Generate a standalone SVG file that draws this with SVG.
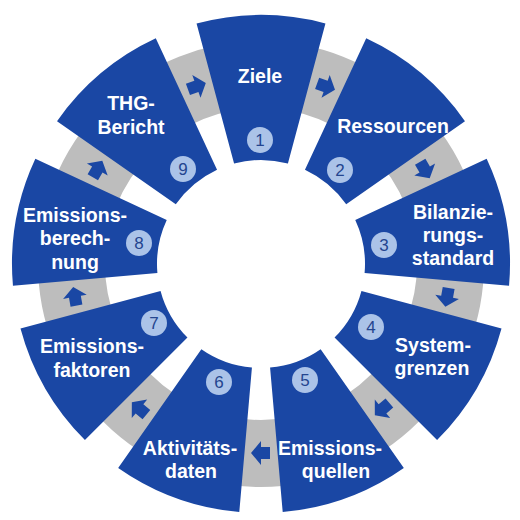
<svg xmlns="http://www.w3.org/2000/svg" xmlns:xlink="http://www.w3.org/1999/xlink" width="520" height="520" viewBox="0 0 520 520">
<style>
.seg{fill:#1a47a4}
.lbl{font-family:"Liberation Sans",Arial,sans-serif;font-weight:bold;font-size:19.5px;fill:#ffffff;text-anchor:middle}
.numc{fill:#abc3e8}
.numt{font-family:"Liberation Sans",Arial,sans-serif;font-size:17px;fill:#24458f;text-anchor:middle}
.arr{fill:#1a47a4}
</style>
<defs>
<path id="arrow" d="M-9,-6 L0,-6 L0,-12 L10,0 L0,12 L0,6 L-9,6 Z"/>
</defs>
<rect width="520" height="520" fill="#ffffff"/>
<g id="connectors">
<circle cx="261" cy="264" r="189.5" fill="none" stroke="#bdbdbd" stroke-width="67"/>
<use xlink:href="#arrow" class="arr" transform="translate(325.6,86.4) rotate(20)"/>
<use xlink:href="#arrow" class="arr" transform="translate(424.7,169.5) rotate(60)"/>
<use xlink:href="#arrow" class="arr" transform="translate(447.1,296.8) rotate(100)"/>
<use xlink:href="#arrow" class="arr" transform="translate(382.5,408.8) rotate(140)"/>
<use xlink:href="#arrow" class="arr" transform="translate(261,453) rotate(180)"/>
<use xlink:href="#arrow" class="arr" transform="translate(139.5,408.8) rotate(220)"/>
<use xlink:href="#arrow" class="arr" transform="translate(74.9,296.8) rotate(260)"/>
<use xlink:href="#arrow" class="arr" transform="translate(97.3,169.5) rotate(300)"/>
<use xlink:href="#arrow" class="arr" transform="translate(196.4,86.4) rotate(340)"/>
</g>
<g id="node1">
<path class="seg" d="M196.56,23.49 A249,249 0 0 1 325.44,23.49 L287.92,163.55 A104,104 0 0 0 234.08,163.55 Z"/>
<text class="lbl" x="260" y="83">Ziele</text>
<circle class="numc" cx="260" cy="140" r="13"/>
<text class="numt" x="260" y="146">1</text>
</g>
<g id="node2">
<path class="seg" d="M366.23,38.33 A249,249 0 0 1 464.98,121.17 L346.20,204.35 A104,104 0 0 0 304.95,169.74 Z"/>
<text class="lbl" x="393" y="133">Ressourcen</text>
<circle class="numc" cx="340" cy="170" r="13"/>
<text class="numt" x="340" y="176">2</text>
</g>
<g id="node3">
<path class="seg" d="M486.67,158.77 A249,249 0 0 1 509.05,285.71 L364.60,273.07 A104,104 0 0 0 355.26,220.05 Z"/>
<text class="lbl" x="453" y="219">Bilanzie-</text>
<text class="lbl" x="453" y="242">rungs-</text>
<text class="lbl" x="453" y="265">standard</text>
<circle class="numc" cx="384" cy="245" r="13"/>
<text class="numt" x="384" y="251">3</text>
</g>
<g id="node4">
<path class="seg" d="M501.51,328.44 A249,249 0 0 1 437.07,440.07 L334.54,337.54 A104,104 0 0 0 361.45,290.92 Z"/>
<text class="lbl" x="433" y="352">System-</text>
<text class="lbl" x="432" y="375">grenzen</text>
<circle class="numc" cx="371" cy="327" r="13"/>
<text class="numt" x="371" y="333">4</text>
</g>
<g id="node5">
<path class="seg" d="M403.83,467.98 A249,249 0 0 1 282.71,512.05 L270.07,367.60 A104,104 0 0 0 320.65,349.20 Z"/>
<text class="lbl" x="330" y="455">Emissions-</text>
<text class="lbl" x="336" y="478">quellen</text>
<circle class="numc" cx="305" cy="380" r="13"/>
<text class="numt" x="305" y="386">5</text>
</g>
<g id="node6">
<path class="seg" d="M239.29,512.05 A249,249 0 0 1 118.17,467.98 L201.35,349.20 A104,104 0 0 0 251.93,367.60 Z"/>
<text class="lbl" x="190" y="455">Aktivitäts-</text>
<text class="lbl" x="191" y="478">daten</text>
<circle class="numc" cx="219" cy="382" r="13"/>
<text class="numt" x="219" y="388">6</text>
</g>
<g id="node7">
<path class="seg" d="M84.93,440.07 A249,249 0 0 1 20.49,328.44 L160.55,290.92 A104,104 0 0 0 187.46,337.54 Z"/>
<text class="lbl" x="92" y="353">Emissions-</text>
<text class="lbl" x="92" y="377">faktoren</text>
<circle class="numc" cx="154" cy="323" r="13"/>
<text class="numt" x="154" y="329">7</text>
</g>
<g id="node8">
<path class="seg" d="M12.95,285.71 A249,249 0 0 1 35.33,158.77 L166.74,220.05 A104,104 0 0 0 157.40,273.07 Z"/>
<text class="lbl" x="75" y="222">Emissions-</text>
<text class="lbl" x="75" y="245">berech-</text>
<text class="lbl" x="75" y="269">nung</text>
<circle class="numc" cx="139" cy="243" r="13"/>
<text class="numt" x="139" y="249">8</text>
</g>
<g id="node9">
<path class="seg" d="M57.02,121.17 A249,249 0 0 1 155.77,38.33 L217.05,169.74 A104,104 0 0 0 175.80,204.35 Z"/>
<text class="lbl" x="131" y="110">THG-</text>
<text class="lbl" x="131" y="134">Bericht</text>
<circle class="numc" cx="183" cy="169" r="13"/>
<text class="numt" x="183" y="175">9</text>
</g>
</svg>
